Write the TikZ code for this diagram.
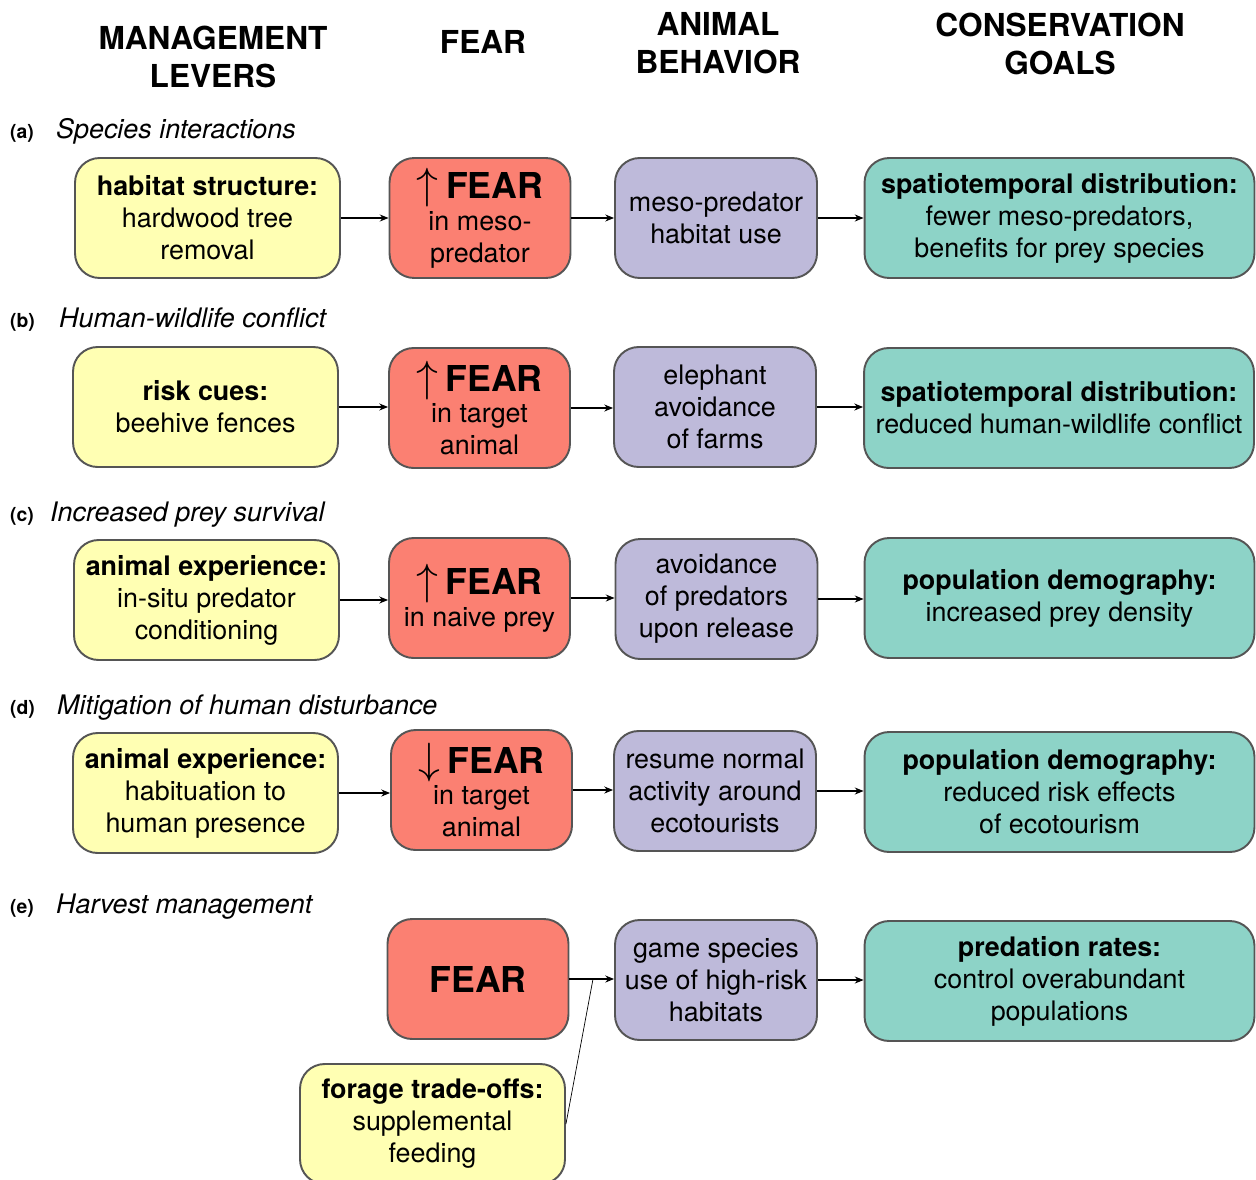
\documentclass[tikz,border=0pt]{standalone}
\usepackage{fontspec}
\setmainfont{TeX Gyre Heros}
\usepackage{tikz}
\usetikzlibrary{arrows.meta}

\definecolor{leverfill}{HTML}{FFFFB3}
\definecolor{fearfill}{HTML}{FB8072}
\definecolor{behavfill}{HTML}{BEBADA}
\definecolor{goalfill}{HTML}{8DD3C7}
\definecolor{boxline}{HTML}{555555}

\newcommand{\bodyfont}{\fontsize{15.3}{18.2}\selectfont}
\newcommand{\headfont}{\fontsize{18}{21.6}\selectfont\bfseries}
\newcommand{\fearfont}{\fontsize{20.3}{22}\selectfont\bfseries}
\newcommand{\fearup}{{\fontsize{26}{26}\selectfont$\uparrow$}\ \fearfont FEAR}
\newcommand{\feardown}{{\fontsize{26}{26}\selectfont$\downarrow$}\ \fearfont FEAR}

\tikzset{
  box/.style={draw=boxline, line width=1.1pt, rounded corners=14pt, align=center,
    minimum height=2.4cm, inner sep=0pt, font=\bodyfont},
  lever/.style={box, fill=leverfill, minimum width=5.3cm},
  fearbox/.style={box, fill=fearfill, minimum width=3.62cm},
  behav/.style={box, fill=behavfill, minimum width=4.04cm},
  goal/.style={box, fill=goalfill, minimum width=7.8cm},
  link/.style={-{Stealth[length=5pt,width=4pt]}, line width=0.6pt},
}

\begin{document}
\begin{tikzpicture}[x=0.02cm, y=-0.02cm]
\useasboundingbox (0,0) rectangle (1256,1179);

%Column Headings
\node[align=center, font=\headfont] (hlever) at (213,57) {MANAGEMENT\\LEVERS};
\node[align=center, font=\headfont] (hfear) at (483,42) {FEAR};
\node[align=center, font=\headfont] (hbehav) at (718,43) {ANIMAL\\BEHAVIOR};
\node[align=center, font=\headfont] (hgoal) at (1060,44) {CONSERVATION\\GOALS};

%Section Labels
\foreach \y/\x/\tag/\ytext in {139/50/a/Species interactions, 327/53/b/Human-wildlife conflict,
    521/44/c/Increased prey survival, 714/51/d/Mitigation of human disturbance, 913/50/e/Harvest management}
{
  \node[anchor=base west, font=\fontsize{11}{13}\selectfont\bfseries] (tag\tag) at (4,\y) {(\tag)};
  \node[anchor=base west, font=\bodyfont\itshape] (title\tag) at (\x,\y) {\ytext};
}

%Section a
\node[lever] (leva) at (207.5,218) {\textbf{habitat structure:}\\hardwood tree\\removal};
\node[fearbox] (feara) at (480,218) {\fearup\\in meso-\\predator};
\node[behav] (beha) at (716,218) {meso-predator\\habitat use};
\node[goal] (goala) at (1059.5,218) {\textbf{spatiotemporal distribution:}\\fewer meso-predators,\\benefits for prey species};

%Section b
\node[lever] (levb) at (205.5,407) {\textbf{risk cues:}\\beehive fences};
\node[fearbox] (fearb) at (479.5,408) {\fearup\\in target\\animal};
\node[behav] (behb) at (715,407) {elephant\\avoidance\\of farms};
\node[goal] (goalb) at (1059,408) {\textbf{spatiotemporal distribution:}\\reduced human-wildlife conflict};

%Section c
\node[lever] (levc) at (206.5,600) {\textbf{animal experience:}\\in-situ predator\\conditioning};
\node[fearbox] (fearc) at (479.5,598) {\fearup\\in naive prey};
\node[behav] (behc) at (716.5,599) {avoidance\\of predators\\upon release};
\node[goal] (goalc) at (1059.5,598) {\textbf{population demography:}\\increased prey density};

%Section d
\node[lever] (levd) at (205.5,793) {\textbf{animal experience:}\\habituation to\\human presence};
\node[fearbox] (feard) at (481.5,790) {\feardown\\in target\\animal};
\node[behav] (behd) at (715,791) {resume normal\\activity around\\ecotourists};
\node[goal] (goald) at (1059.5,792) {\textbf{population demography:}\\reduced risk effects\\of ecotourism};

%Section e
\node[fearbox, font=\fearfont] (feare) at (478,979) {FEAR};
\node[behav] (behe) at (716,980) {game species\\use of high-risk\\habitats};
\node[goal] (goale) at (1059.5,981) {\textbf{predation rates:}\\control overabundant\\populations};
\node[lever] (leve) at (432.5,1124) {\textbf{forage trade-offs:}\\supplemental\\feeding};
\coordinate (joine) at (593,979);

%Arrows
\foreach \r in {a,b,c,d}
{
  \draw[link] (lev\r.east) -- (lev\r.east -| fear\r.west);
  \draw[link] (fear\r.east) -- (fear\r.east -| beh\r.west);
  \draw[link] (beh\r.east) -- (beh\r.east -| goal\r.west);
}
\draw[link] (feare.east) -- (feare.east -| behe.west);
\draw (leve.east) -- (joine);
\draw[link] (behe.east) -- (behe.east -| goale.west);

\end{tikzpicture}
\end{document}
